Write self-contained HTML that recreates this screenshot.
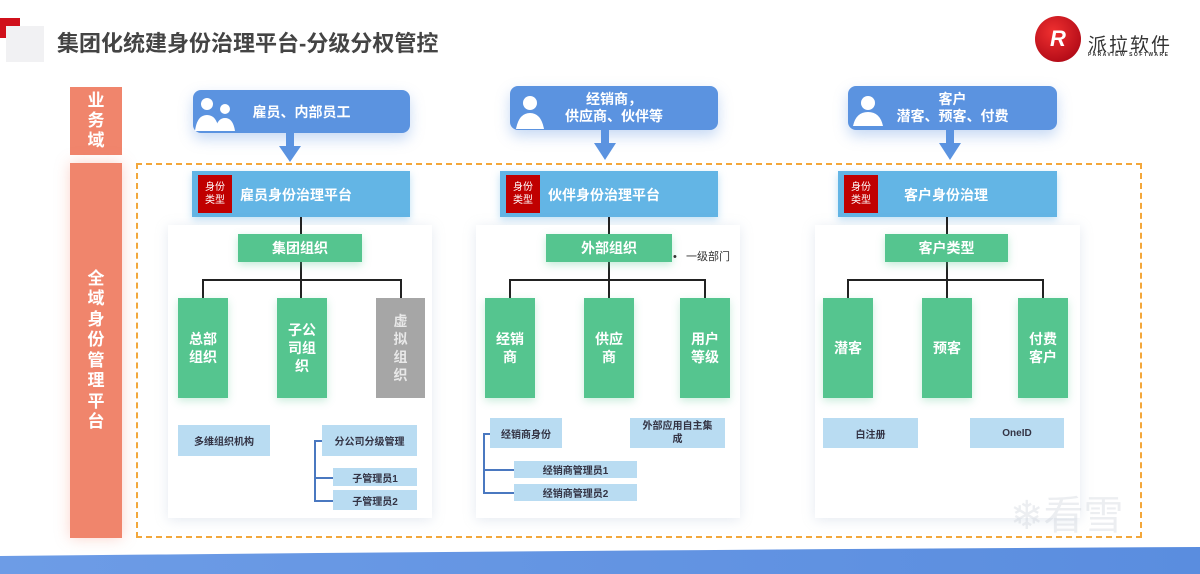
<!DOCTYPE html>
<html><head><meta charset="utf-8"><style>
*{margin:0;padding:0;box-sizing:border-box}
body{width:1200px;height:574px;overflow:hidden;background:#fff;position:relative;font-family:"Liberation Sans","Noto Sans CJK SC",sans-serif}
.a{position:absolute}
.c{display:flex;align-items:center;justify-content:center;text-align:center}
.top{background:#5b93e0;border-radius:8px;color:#fff;font-weight:bold;font-size:14px;box-shadow:0 6px 14px rgba(91,147,224,.35)}
.plat{background:#63b5e5;color:#fff;font-weight:bold;font-size:14px;box-shadow:0 3px 8px rgba(99,181,229,.4)}
.tag{background:#c00000;color:#fff;font-size:10px;line-height:13px;font-weight:normal}
.panel{background:#fff;box-shadow:0 2px 12px rgba(150,170,200,.25)}
.g{background:#55c58f;color:#fff;font-weight:bold;font-size:14px;box-shadow:0 3px 8px rgba(85,197,143,.35)}
.ch{background:#55c58f;color:#fff;font-weight:bold;font-size:14px;line-height:18px;box-shadow:0 3px 8px rgba(85,197,143,.3)}
.lb{background:#b9dcf2;color:#334;font-size:10px;font-weight:bold}
.l{background:#222}
.bl{background:#4a78c0}
</style></head><body>
<div class="a" style="left:0;top:18px;width:20px;height:20px;background:#d0101b"></div>
<div class="a" style="left:6px;top:26px;width:38px;height:36px;background:#f1f1f3"></div>
<div class="a" style="left:57px;top:26px;font-size:22px;font-weight:bold;color:#444">集团化统建身份治理平台-分级分权管控</div>
<div class="a c" style="left:1035px;top:16px;width:46px;height:46px;border-radius:50%;background:radial-gradient(circle at 40% 35%,#f03030,#a00010);color:#fff;font-weight:bold;font-size:22px;font-style:italic">R</div>
<div class="a" style="left:1088px;top:30px;font-size:19px;color:#333;letter-spacing:2px">派拉软件</div>
<div class="a" style="left:1088px;top:52px;font-size:5px;color:#333;letter-spacing:1.5px;font-weight:bold">PARAVIEW SOFTWARE</div>

<div class="a c" style="left:70px;top:87px;width:52px;height:68px;background:#f0856c;color:#fff;font-weight:bold;font-size:17px;line-height:20px">业<br>务<br>域</div>
<div class="a c" style="left:70px;top:163px;width:52px;height:375px;background:#f0856c;color:#fff;font-weight:bold;font-size:17px;line-height:20.5px;box-shadow:0 0 14px rgba(240,133,108,.35)">全<br>域<br>身<br>份<br>管<br>理<br>平<br>台</div>
<div class="a" style="left:136px;top:163px;width:1006px;height:375px;border:2px dashed #f3a73b"></div>

<!-- top boxes -->
<div class="a top c" style="left:193px;top:90px;width:217px;height:43px">雇员、内部员工</div>
<div class="a top c" style="left:510px;top:86px;width:208px;height:44px;line-height:17px">经销商，<br>供应商、伙伴等</div>
<div class="a top c" style="left:848px;top:86px;width:209px;height:44px;line-height:17px">客户<br>潜客、预客、付费</div>
<svg class="a" style="left:0;top:0" width="1200" height="574">
<g fill="#fff">
<circle cx="207" cy="104" r="6"/><path d="M195 131 q2-16 12-16 q10 0 12 16z"/>
<circle cx="225" cy="109" r="5"/><path d="M215 131 q2-13 10-13 q8 0 10 13z"/>
<circle cx="530" cy="103" r="7"/><path d="M516 129 q3-16 14-16 q11 0 14 16z"/>
<circle cx="868" cy="103" r="7"/><path d="M853 126 q3-14 15-14 q12 0 15 14z"/>
</g>
<g fill="#5b93e0">
<rect x="286" y="133" width="8" height="15"/><path d="M279 146 h22 l-11 16z"/>
<rect x="601" y="130" width="8" height="15"/><path d="M594 143 h22 l-11 17z"/>
<rect x="946" y="130" width="8" height="15"/><path d="M939 143 h22 l-11 17z"/>
</g>
</svg>

<!-- platform bars -->
<div class="a plat" style="left:192px;top:171px;width:218px;height:46px"><div class="a tag c" style="left:6px;top:4px;width:34px;height:38px">身份<br>类型</div><div class="a" style="left:48px;top:14px">雇员身份治理平台</div></div>
<div class="a plat" style="left:500px;top:171px;width:218px;height:46px"><div class="a tag c" style="left:6px;top:4px;width:34px;height:38px">身份<br>类型</div><div class="a" style="left:48px;top:14px">伙伴身份治理平台</div></div>
<div class="a plat" style="left:838px;top:171px;width:219px;height:46px"><div class="a tag c" style="left:6px;top:4px;width:34px;height:38px">身份<br>类型</div><div class="a" style="left:66px;top:14px">客户身份治理</div></div>

<!-- panels -->
<div class="a panel" style="left:168px;top:225px;width:264px;height:293px"></div>
<div class="a panel" style="left:476px;top:225px;width:264px;height:293px"></div>
<div class="a panel" style="left:815px;top:225px;width:265px;height:293px"></div>

<!-- connectors -->
<div class="a l" style="left:300px;top:217px;width:2px;height:63px"></div>
<div class="a l" style="left:202px;top:279px;width:200px;height:2px"></div>
<div class="a l" style="left:202px;top:279px;width:2px;height:19px"></div>
<div class="a l" style="left:300px;top:279px;width:2px;height:19px"></div>
<div class="a l" style="left:400px;top:279px;width:2px;height:19px"></div>

<div class="a l" style="left:608px;top:217px;width:2px;height:63px"></div>
<div class="a l" style="left:509px;top:279px;width:197px;height:2px"></div>
<div class="a l" style="left:509px;top:279px;width:2px;height:19px"></div>
<div class="a l" style="left:608px;top:279px;width:2px;height:19px"></div>
<div class="a l" style="left:704px;top:279px;width:2px;height:19px"></div>

<div class="a l" style="left:946px;top:217px;width:2px;height:63px"></div>
<div class="a l" style="left:847px;top:279px;width:197px;height:2px"></div>
<div class="a l" style="left:847px;top:279px;width:2px;height:19px"></div>
<div class="a l" style="left:946px;top:279px;width:2px;height:19px"></div>
<div class="a l" style="left:1042px;top:279px;width:2px;height:19px"></div>

<!-- green headers -->
<div class="a g c" style="left:238px;top:234px;width:124px;height:28px">集团组织</div>
<div class="a g c" style="left:546px;top:234px;width:126px;height:28px">外部组织</div>
<div class="a g c" style="left:885px;top:234px;width:123px;height:28px">客户类型</div>
<div class="a" style="left:673px;top:248px;font-size:11px;color:#333">•&nbsp;&nbsp; 一级部门</div>

<!-- children -->
<div class="a ch c" style="left:178px;top:298px;width:50px;height:100px">总部<br>组织</div>
<div class="a ch c" style="left:277px;top:298px;width:50px;height:100px">子公<br>司组<br>织</div>
<div class="a ch c" style="left:376px;top:298px;width:49px;height:100px;background:#a6a6a6;color:#e8e8e8;box-shadow:none">虚<br>拟<br>组<br>织</div>
<div class="a ch c" style="left:485px;top:298px;width:50px;height:100px">经销<br>商</div>
<div class="a ch c" style="left:584px;top:298px;width:50px;height:100px">供应<br>商</div>
<div class="a ch c" style="left:680px;top:298px;width:50px;height:100px">用户<br>等级</div>
<div class="a ch c" style="left:823px;top:298px;width:50px;height:100px">潜客</div>
<div class="a ch c" style="left:922px;top:298px;width:50px;height:100px">预客</div>
<div class="a ch c" style="left:1018px;top:298px;width:50px;height:100px">付费<br>客户</div>

<!-- bottom boxes -->
<div class="a lb c" style="left:178px;top:425px;width:92px;height:31px">多维组织机构</div>
<div class="a lb c" style="left:322px;top:425px;width:95px;height:31px">分公司分级管理</div>
<div class="a lb c" style="left:333px;top:468px;width:84px;height:18px">子管理员1</div>
<div class="a lb c" style="left:333px;top:490px;width:84px;height:20px">子管理员2</div>
<div class="a bl" style="left:314px;top:440px;width:1.5px;height:61px"></div>
<div class="a bl" style="left:314px;top:440px;width:8px;height:1.5px"></div>
<div class="a bl" style="left:314px;top:477px;width:19px;height:1.5px"></div>
<div class="a bl" style="left:314px;top:500px;width:19px;height:1.5px"></div>

<div class="a lb c" style="left:490px;top:418px;width:72px;height:30px">经销商身份</div>
<div class="a lb c" style="left:630px;top:418px;width:95px;height:30px;line-height:13px">外部应用自主集<br>成</div>
<div class="a lb c" style="left:514px;top:461px;width:123px;height:17px">经销商管理员1</div>
<div class="a lb c" style="left:514px;top:484px;width:123px;height:17px">经销商管理员2</div>
<div class="a bl" style="left:483px;top:433px;width:1.5px;height:60px"></div>
<div class="a bl" style="left:483px;top:433px;width:7px;height:1.5px"></div>
<div class="a bl" style="left:483px;top:469px;width:31px;height:1.5px"></div>
<div class="a bl" style="left:483px;top:492px;width:31px;height:1.5px"></div>

<div class="a lb c" style="left:823px;top:418px;width:95px;height:30px">白注册</div>
<div class="a lb c" style="left:970px;top:418px;width:94px;height:30px">OneID</div>

<div class="a" style="left:1010px;top:483px;font-size:40px;color:rgba(200,205,215,.35)">❄看雪</div>

<svg class="a" style="left:0;top:540px" width="1200" height="34">
<defs><linearGradient id="bg" x1="0" x2="1"><stop offset="0" stop-color="#6d9ce6"/><stop offset="1" stop-color="#5a8ddf"/></linearGradient></defs>
<path d="M0 16 Q600 10 1200 7 V34 H0z" fill="url(#bg)"/>
</svg>
</body></html>
